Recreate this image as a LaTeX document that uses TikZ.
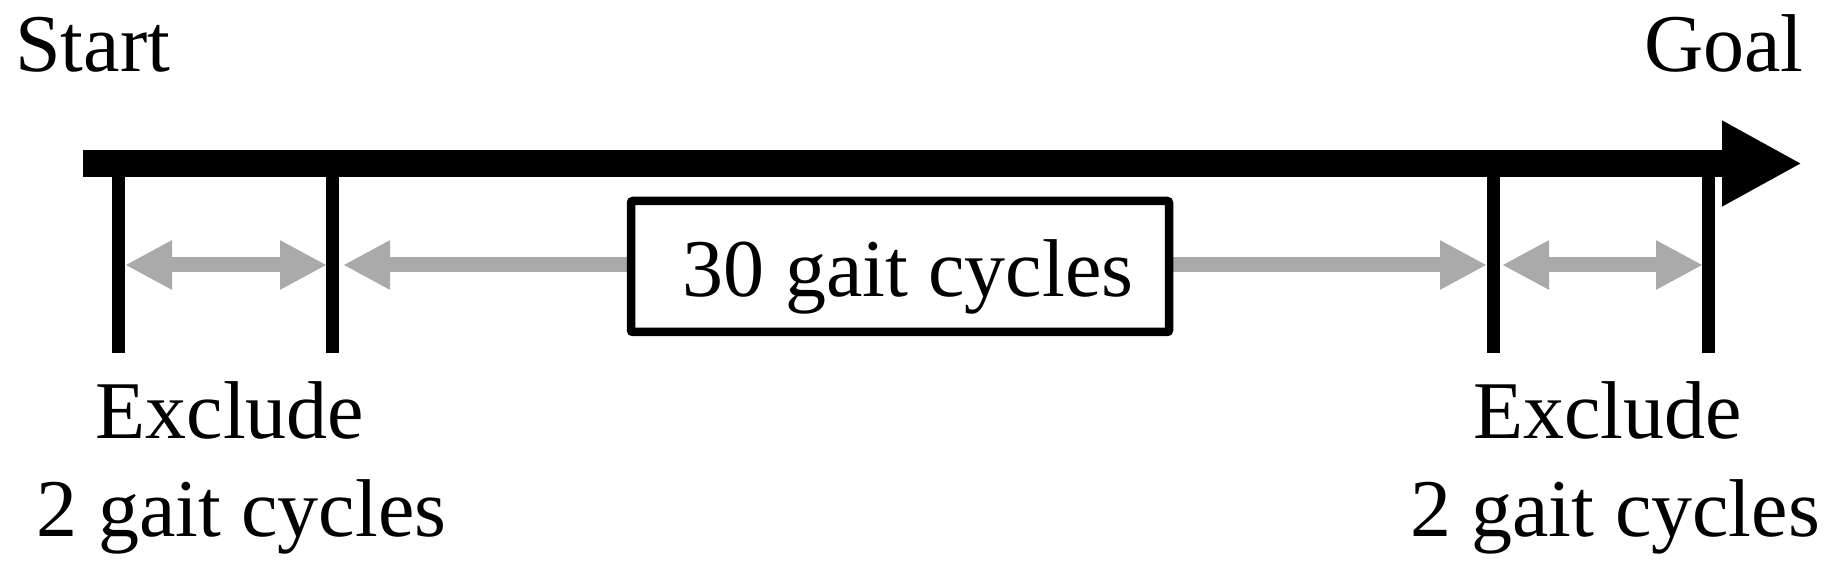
\documentclass[tikz,border=0pt]{standalone}
\usepackage{fontspec}
\setmainfont{Liberation Serif}
\usetikzlibrary{arrows.meta}
\definecolor{spangray}{RGB}{170,170,170}

\begin{document}
\begin{tikzpicture}[x=0.5pt,y=-0.5pt,
    font=\fontsize{41}{49.5}\selectfont,
    lbl/.style={inner sep=0pt, anchor=base},
    tickline/.style={line width=6.5pt},
    spanarrow/.style={spangray, line width=7.5pt,
      {Triangle[length=23.5pt,width=23pt]}-{Triangle[length=23.5pt,width=23pt]}}]
  \useasboundingbox (0,0) rectangle (1828,572);

  % time axis with the four cut marks
  \coordinate (s) at (83,163.5);
  \coordinate (g) at (1802,163.5);
  \foreach \x [count=\i] in {118,332,1493,1708} {
    \coordinate (top\i) at (\x,163.5);
    \coordinate (bot\i) at (\x,353);
    \draw[tickline] (top\i) -- (bot\i);
  }
  \draw[line width=13.5pt,-{Triangle[length=40pt,width=40pt]}] (s) -- (g);

  % gray spans
  \coordinate (l1) at (125,265);  \coordinate (r1) at (327,265);
  \coordinate (l2) at (343,265);  \coordinate (r2) at (1487,265);
  \coordinate (l3) at (1502,265); \coordinate (r3) at (1703,265);
  \draw[spanarrow] (l1) -- (r1);
  \draw[spanarrow] (l2) -- (r2);
  \draw[spanarrow] (l3) -- (r3);

  \node[draw, fill=white, line width=4.25pt, rounded corners=1pt,
        minimum width=269pt, minimum height=65.5pt, inner sep=0pt,
        text height=38pt, text depth=7.5pt] (cycbox) at (900,266.5)
        {\hspace*{8pt}30 gait cycles};

  % labels
  \node[lbl, anchor=base west] (start) at (15,72) {Start};
  \node[lbl, anchor=base east] (goal) at (1804,72) {Goal};
  \node[lbl] (excl1) at (230,438) {Exclude};
  \node[lbl] (cyc1) at (241.5,537) {2 gait cycles};
  \node[lbl] (excl2) at (1607.5,438) {Exclude};
  \node[lbl] (cyc2) at (1615,537) {2 gait cycles};
\end{tikzpicture}
\end{document}
